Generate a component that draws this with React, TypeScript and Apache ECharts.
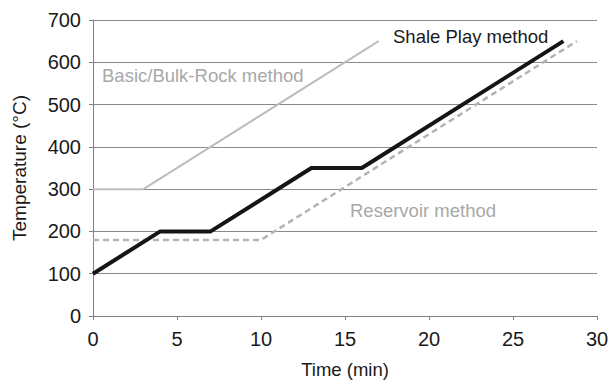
import React, { useEffect, useRef } from "react";
import * as echarts from "echarts";

const basicBulkRock: [number, number][] = [
  [0, 300],
  [3, 300],
  [17, 650],
];
const shalePlay: [number, number][] = [
  [0, 100],
  [4, 200],
  [7, 200],
  [13, 350],
  [16, 350],
  [28, 650],
];
const reservoir: [number, number][] = [
  [0, 180],
  [10, 180],
  [28.8, 650],
];
const seriesNames = ["Basic/Bulk-Rock method", "Shale Play method", "Reservoir method"];

const FONT = "Liberation Sans, Arial, sans-serif";

export default function App() {
  const ref = useRef<HTMLDivElement>(null);
  useEffect(() => {
    if (!ref.current) return;
    const chart = echarts.init(ref.current, undefined, { renderer: "svg" });
    chart.setOption({
      animation: false,
      backgroundColor: "#ffffff",
      grid: { left: 93, right: 15, top: 20, bottom: 69 },
      xAxis: {
        type: "value",
        min: 0,
        max: 30,
        interval: 5,
        name: "Time (min)",
        nameLocation: "middle",
        nameGap: 44,
        nameTextStyle: { fontFamily: FONT, fontSize: 18.5, color: "#1a1a1a" },
        axisLine: { show: true, lineStyle: { color: "#808080", width: 1 } },
        axisTick: { show: true, length: 4, lineStyle: { color: "#808080" } },
        axisLabel: { fontFamily: FONT, fontSize: 20, color: "#1a1a1a", margin: 13 },
        splitLine: { show: false },
      },
      yAxis: {
        type: "value",
        min: 0,
        max: 700,
        interval: 100,
        name: "Temperature (°C)",
        nameLocation: "middle",
        nameGap: 64,
        nameTextStyle: { fontFamily: FONT, fontSize: 19, color: "#1a1a1a" },
        axisLine: { show: true, lineStyle: { color: "#808080", width: 1 } },
        axisTick: { show: true, length: 4, lineStyle: { color: "#808080" } },
        axisLabel: { fontFamily: FONT, fontSize: 20, color: "#1a1a1a", margin: 12 },
        splitLine: { show: true, lineStyle: { color: "#8a8a8a", width: 1 } },
      },
      series: [
        {
          name: seriesNames[0],
          type: "line",
          data: basicBulkRock,
          showSymbol: false,
          lineStyle: { color: "#bdbdbd", width: 2 },
          z: 2,
        },
        {
          name: seriesNames[2],
          type: "line",
          data: reservoir,
          showSymbol: false,
          lineStyle: { color: "#b3b3b3", width: 2.5, type: [6, 4] },
          z: 3,
        },
        {
          name: seriesNames[1],
          type: "line",
          data: shalePlay,
          showSymbol: false,
          lineStyle: { color: "#151515", width: 4 },
          z: 4,
        },
      ],
      graphic: [
        {
          type: "text",
          x: 102,
          y: 75,
          style: {
            text: seriesNames[0],
            fontFamily: FONT,
            fontSize: 18.5,
            fill: "#a8a8a8",
            textVerticalAlign: "middle",
          },
        },
        {
          type: "text",
          x: 393,
          y: 36,
          style: {
            text: seriesNames[1],
            fontFamily: FONT,
            fontSize: 18.5,
            fill: "#1a1a1a",
            textVerticalAlign: "middle",
          },
        },
        {
          type: "text",
          x: 350,
          y: 210,
          style: {
            text: seriesNames[2],
            fontFamily: FONT,
            fontSize: 18.5,
            fill: "#a8a8a8",
            textVerticalAlign: "middle",
          },
        },
      ],
    });
    return () => chart.dispose();
  }, []);
  return (
    <div
      ref={ref}
      style={{ position: "absolute", left: 0, top: 0, width: 612, height: 385 }}
    />
  );
}
